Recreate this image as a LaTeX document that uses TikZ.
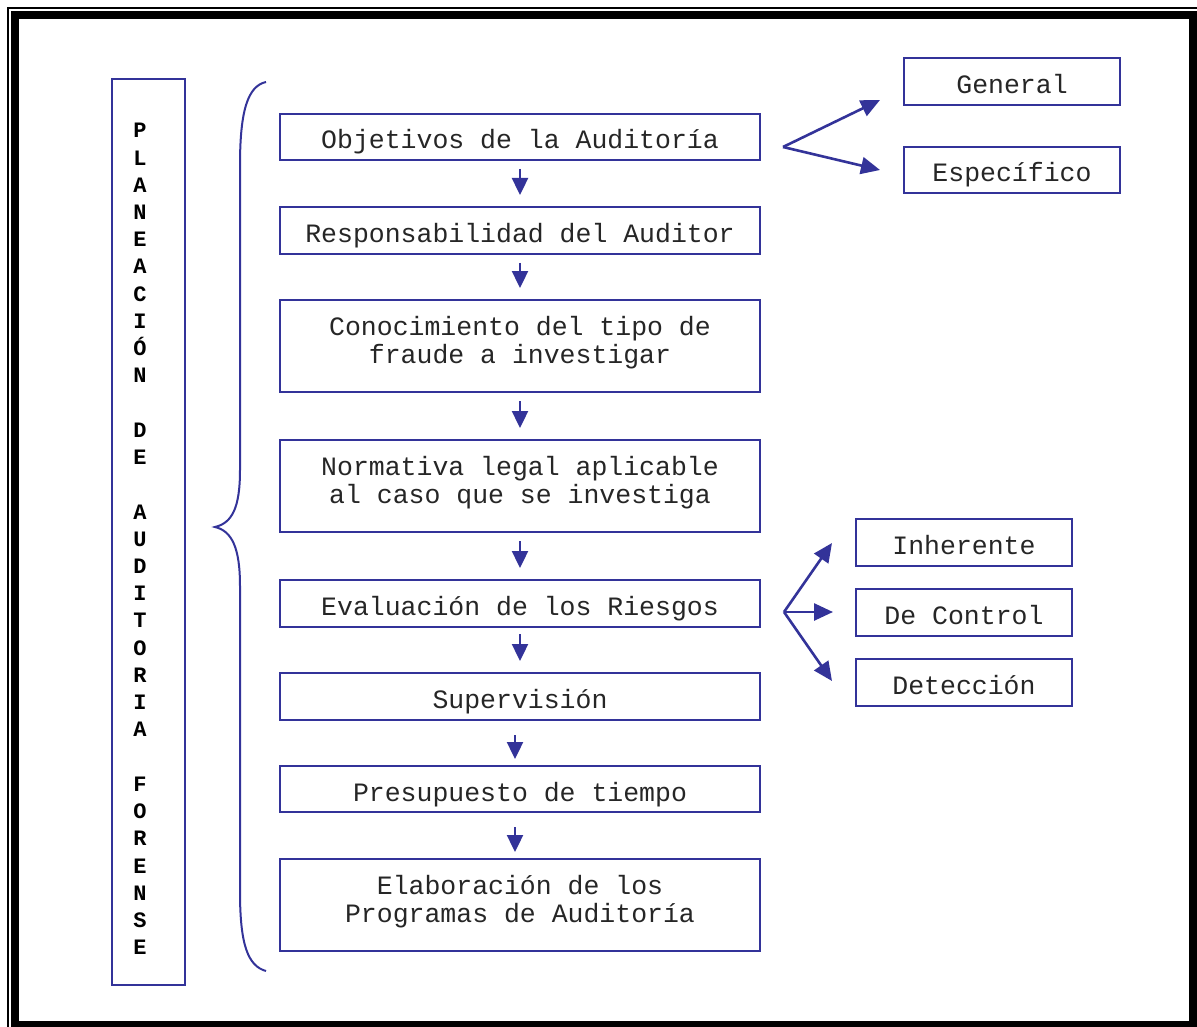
\documentclass[tikz,border=0pt]{standalone}
\usepackage{fontspec}
\setmainfont{Liberation Mono}
\usetikzlibrary{arrows.meta,calc}
\definecolor{navy}{RGB}{51,51,153}
\tikzset{
  box/.style={draw=navy, line width=2pt, fill=white, minimum width=480pt,
    inner sep=0pt, align=center, text=black!85,
    font=\fontsize{26.5}{28}\selectfont},
  oneline/.style={text height=24pt, text depth=0pt},
  twoline/.style={text height=35pt, text depth=0pt},
  sidebox/.style={box, oneline, minimum width=216pt, minimum height=47pt},
  flow/.style={draw=navy, line width=2.4pt, -{Triangle[length=17pt,width=16pt]}},
  fork/.style={draw=navy, line width=2.6pt, -{Triangle[length=19pt,width=17pt]}},
  brace/.style={draw=navy, line width=2pt},
}
\begin{document}
\begin{tikzpicture}[x=1pt,y=-1pt]
\useasboundingbox (0,0) rectangle (1197,1027);
\clip (0,0) rectangle (1197,1027);
\fill[white] (0,0) rectangle (1197,1027);

% page frame: thin outer rule and heavy inner rule
\draw[black, line width=1.6pt] (8,8) rectangle (1205,1035);
\draw[black, line width=8pt] (15,15) rectangle (1192.5,1024.5);

% vertical title box
\node[draw=navy, line width=2pt, minimum width=73pt, minimum height=906pt,
  inner sep=0pt] (titlebox) at (148.5,532) {};
\node[align=center, text=black, font=\fontsize{22}{27.23}\selectfont\bfseries]
  (title) at (140,539)
  {P\\L\\A\\N\\E\\A\\C\\I\\Ó\\N\\~\\D\\E\\~\\A\\U\\D\\I\\T\\O\\R\\I\\A\\~\\F\\O\\R\\E\\N\\S\\E};

% curly brace
\draw[brace] (266,82) .. controls (248,86) and (240,110) .. (240,165)
  -- (240,470) .. controls (240,508) and (232,523) .. (215,527)
  .. controls (232,531) and (240,548) .. (240,586)
  -- (240,892) .. controls (240,945) and (248,966) .. (266,971);

% main sequence
\node[box, oneline, minimum height=46pt] (obj)  at (520,137)   {Objetivos de la Auditoría};
\node[box, oneline, minimum height=47pt] (resp) at (520,230.5) {Responsabilidad del Auditor};
\node[box, twoline, minimum height=92pt] (con)  at (520,346)   {Conocimiento del tipo de\\fraude a investigar};
\node[box, twoline, minimum height=92pt] (norm) at (520,486)   {Normativa legal aplicable\\al caso que se investiga};
\node[box, oneline, minimum height=47pt] (eval) at (520,603.5) {Evaluación de los Riesgos};
\node[box, oneline, minimum height=47pt] (sup)  at (520,696.5) {Supervisión};
\node[box, oneline, minimum height=46pt] (pres) at (520,789)   {Presupuesto de tiempo};
\node[box, twoline, minimum height=92pt] (elab) at (520,905)   {Elaboración de los\\Programas de Auditoría};

\draw[flow, shorten <=8pt, shorten >=11pt] (obj) -- (resp);
\draw[flow, shorten <=8pt, shorten >=11pt] (resp) -- (con);
\draw[flow, shorten <=8pt, shorten >=11pt] (con) -- (norm);
\draw[flow, shorten <=8pt, shorten >=11pt] (norm) -- (eval);
\draw[flow, shorten <=6pt, shorten >=11pt] (eval) -- (sup);
\draw[flow, shorten <=14pt, shorten >=6pt] ([xshift=-5pt]sup.south) -- ([xshift=-5pt]pres.north);
\draw[flow, shorten <=14pt, shorten >=6pt] ([xshift=-5pt]pres.south) -- ([xshift=-5pt]elab.north);

% objectives branch
\node[sidebox] (gen) at (1012,81.5) {General};
\node[sidebox, minimum height=46pt] (esp) at (1012,170) {Específico};
\coordinate (objfork) at (783,147);
\coordinate (gentip) at (880,100);
\coordinate (esptip) at (880,170);
\draw[fork] (objfork) -- (gentip);
\draw[fork] (objfork) -- (esptip);

% risk branch
\node[sidebox] (inh) at (964,542.5) {Inherente};
\node[sidebox] (ctl) at (964,612.5) {De Control};
\node[sidebox] (det) at (964,682.5) {Detección};
\coordinate (riskfork) at (784,612);
\coordinate (inhtip) at (832,543);
\coordinate (ctltip) at (833,612);
\coordinate (dettip) at (832,681);
\draw[fork] (riskfork) -- (inhtip);
\draw[fork] (riskfork) -- (ctltip);
\draw[fork] (riskfork) -- (dettip);
\end{tikzpicture}
\end{document}
